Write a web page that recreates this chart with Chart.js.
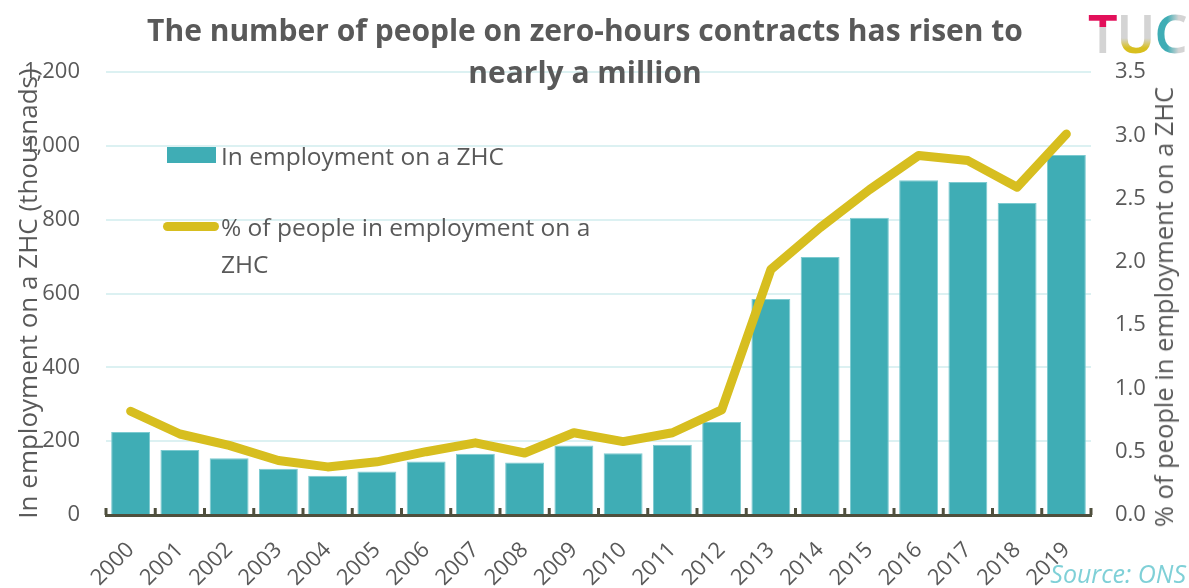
<!DOCTYPE html>
<html>
<head>
<meta charset="utf-8">
<script src="https://cdn.jsdelivr.net/npm/chart.js@4.4.0/dist/chart.umd.min.js"></script>
<style>
  body { margin: 0; background: #fff; font-family: 'Open Sans', sans-serif; color: #595959; }
  #wrap { position: relative; width: 1189px; height: 588px; overflow: hidden; }
  #wrap canvas { position: absolute; left: 0; top: 0; }
  .title { position: absolute; left: 0; width: 1170px; top: 9px; text-align: center; font-weight: bold; font-size: 30px; line-height: 42px; color: #595959; }
  .legend { position: absolute; left: 160px; top: 137px; font-size: 24.5px; line-height: 37px; color: #595959; }
  .legend .row { position: relative; padding-left: 61px; }
  .legend .box { position: absolute; left: 7px; top: 10px; width: 49px; height: 16px; }
  .legend .ln { position: absolute; left: 3px; top: 14px; width: 56px; height: 9px; border-radius: 5px; }
  .rtitle { position: absolute; left: 1163px; top: 307px; font-size: 25.5px; white-space: nowrap; transform: translate(-50%, -50%) rotate(-90deg); color: #595959; }
  .source { position: absolute; right: 3px; top: 556px; font-size: 25px; font-style: italic; color: #7fd0d7; }
  .logo { position: absolute; left: 1088px; top: -3px; font-family: 'Noto Sans', sans-serif; font-weight: 600; font-size: 52px; letter-spacing: -1px; }
  .logo span { -webkit-background-clip: text; background-clip: text; color: transparent; }
</style>
</head>
<body>
<div id="wrap">
  <canvas id="zhcChart" width="1189" height="588"></canvas>
  <div class="title">The number of people on zero-hours contracts has risen to<br>nearly a million</div>
  <div class="legend" id="legend"></div>
  <div class="rtitle">% of people in employment on a ZHC</div>
  <div class="source">Source: ONS</div>
  <div class="logo">
    <span style="background-image: linear-gradient(to bottom, #e2105a 0%, #e2105a 42%, #d4d4d4 42%);">T</span><span style="background-image: linear-gradient(to bottom, #d4d4d4 0%, #d4d4d4 58%, #d8bf1e 72%);">U</span><span style="background-image: linear-gradient(to right, #3fadb5 0%, #3fadb5 40%, #d4d4d4 75%);">C</span>
  </div>
</div>
<script>
// chart data
const years = ['2000', '2001', '2002', '2003', '2004', '2005', '2006', '2007', '2008', '2009',
               '2010', '2011', '2012', '2013', '2014', '2015', '2016', '2017', '2018', '2019'];
const zhcThousands = [225, 176, 154, 125, 106, 118, 145, 166, 142, 188,
                      167, 190, 252, 585, 699, 805, 907, 902, 845, 975];
const zhcPercent = [0.82, 0.64, 0.55, 0.43, 0.38, 0.42, 0.50, 0.57, 0.49, 0.65,
                    0.58, 0.65, 0.83, 1.94, 2.27, 2.57, 2.84, 2.80, 2.59, 3.01];
const seriesLabels = ['In employment on a ZHC', '% of people in employment on a ZHC'];

const teal = '#3fadb5';
const yellow = '#d7be1f';
const grey = '#595959';
const axisDark = '#4f4f3d';

// bottom axis ticks pointing up at the category boundaries
const upTicks = {
    id: 'upTicks',
    afterDatasetsDraw(chart) {
        const x = chart.scales.x;
        const ctx = chart.ctx;
        const half = (x.getPixelForValue(1) - x.getPixelForValue(0)) / 2;
        ctx.save();
        ctx.strokeStyle = axisDark;
        ctx.lineWidth = 3;
        for (let i = 0; i <= years.length; i++) {
            const px = x.getPixelForValue(i) - half;
            ctx.beginPath();
            ctx.moveTo(px, x.top);
            ctx.lineTo(px, x.top - 7);
            ctx.stroke();
        }
        ctx.restore();
    }
};

const ctx = document.getElementById('zhcChart').getContext('2d');
const chart = new Chart(ctx, {
    type: 'bar',
    data: {
        labels: years,
        datasets: [
            {
                type: 'line',
                label: seriesLabels[1],
                data: zhcPercent,
                yAxisID: 'y1',
                borderColor: yellow,
                borderWidth: 9,
                borderCapStyle: 'round',
                borderJoinStyle: 'round',
                pointRadius: 0,
                tension: 0,
                order: 0
            },
            {
                label: seriesLabels[0],
                data: zhcThousands,
                yAxisID: 'y',
                backgroundColor: teal,
                borderColor: '#7ccad0',
                borderWidth: 1,
                barPercentage: 0.79,
                categoryPercentage: 1,
                order: 1
            }
        ]
    },
    options: {
        responsive: false,
        animation: false,
        layout: { padding: { top: 72, left: 0, right: 0, bottom: 0 } },
        plugins: {
            legend: { display: false },
            title: { display: false },
            tooltip: { enabled: false }
        },
        scales: {
            x: {
                grid: { display: false },
                border: { display: true, color: axisDark, width: 3 },
                ticks: {
                    color: grey,
                    font: { family: 'Open Sans', size: 22 },
                    minRotation: 45,
                    maxRotation: 45,
                    padding: 14
                },
                afterFit(scale) { scale.height = 73; }
            },
            y: {
                position: 'left',
                min: 0,
                max: 1200,
                grid: { color: '#dcf1f2', lineWidth: 2, drawTicks: false },
                border: { display: false },
                ticks: {
                    stepSize: 200,
                    color: grey,
                    padding: 26,
                    font: { family: 'Open Sans', size: 22 },
                    callback: v => v.toLocaleString('en-GB')
                },
                title: {
                    display: true,
                    text: 'In employment on a ZHC (thousnads)',
                    color: grey,
                    font: { family: 'Open Sans', size: 26 },
                    padding: { top: 14, bottom: 0 }
                },
                afterFit(scale) { scale.width = 106; }
            },
            y1: {
                position: 'right',
                min: 0,
                max: 3.5,
                grid: { drawOnChartArea: false, drawTicks: false },
                border: { display: false },
                ticks: {
                    stepSize: 0.5,
                    color: grey,
                    padding: 24,
                    font: { family: 'Open Sans', size: 22 },
                    callback: v => v.toFixed(1)
                },
                afterFit(scale) { scale.width = 98; }
            }
        }
    },
    plugins: [upTicks]
});

// legend built from the datasets
const legendEl = document.getElementById('legend');
legendEl.innerHTML =
    '<div class="row" style="margin-bottom:34px"><span class="box" style="background:' + teal + '"></span>' + seriesLabels[0] + '</div>' +
    '<div class="row"><span class="ln" style="background:' + yellow + '"></span>% of people in employment on a<br>ZHC</div>';
</script>
</body>
</html>
